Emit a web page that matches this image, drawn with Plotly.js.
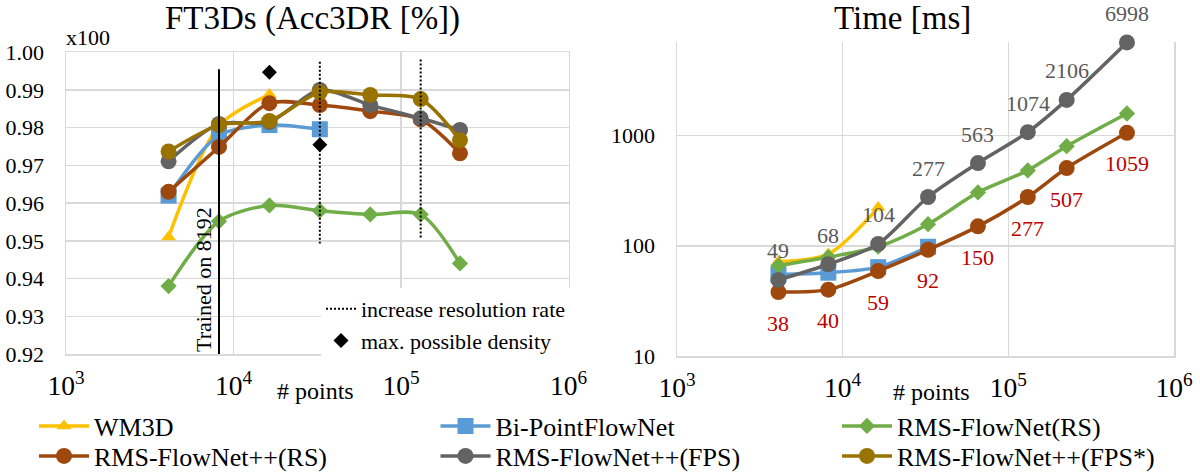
<!DOCTYPE html>
<html><head><meta charset="utf-8">
<script src="https://cdn.plot.ly/plotly-3.0.1.min.js"></script>
<style>html,body{margin:0;padding:0;background:#fff;overflow:hidden}#chart{width:1200px;height:472px}</style>
</head><body><div id="chart"></div>
<script>
// ---- Left panel: FT3Ds (Acc3DR) ----
const accPoints = [4096, 8192, 16384, 32768, 65536, 131072, 225000];
const accWM3D = [0.951, 0.9805, 0.9888];
const accBiPoint = [0.962, 0.978, 0.9807, 0.9796];
const accRmsRS = [0.938, 0.9552, 0.9594, 0.958, 0.957, 0.957, 0.944];
const accRmsppRS = [0.963, 0.9749, 0.9865, 0.986, 0.9844, 0.9822, 0.9732];
const accRmsppFPS = [0.9711, 0.981, 0.9815, 0.990, 0.986, 0.9825, 0.9794];
const accRmsppFPSs = [0.9737, 0.9807, 0.9818, 0.9894, 0.9887, 0.9876, 0.9767];
const trainedOn = 8192;
const trainedLineTop = 0.9955;
const accAxisMin = 0.92;
const resolutionSteps = [32768, 131072];
const resolutionTop = [0.9975, 0.9981];
const resolutionBottom = [0.9493, 0.9504];
const maxDensityPoints = [16384, 32768];
const maxDensityAcc = [0.9947, 0.9755];

// ---- Right panel: Time [ms] ----
const timePoints = [4096, 8192, 16384, 32768, 65536, 131072, 225000, 520000];
const timeWM3D = [72, 84, 222];
const timeBiPoint = [55, 57, 64, 98];
const timeRmsRS = [66, 79, 98, 157, 305, 483, 800, 1585];
const timeRmsppRS = [38, 40, 59, 92, 150, 277, 507, 1059];
const timeRmsppFPS = [49, 68, 104, 277, 563, 1074, 2106, 6998];

const names = ['WM3D', 'Bi-PointFlowNet', 'RMS-FlowNet(RS)', 'RMS-FlowNet++(RS)', 'RMS-FlowNet++(FPS)', 'RMS-FlowNet++(FPS*)'];
const colors = ['#FFC000', '#5B9BD5', '#70AD47', '#9E480E', '#636363', '#997300'];
const symbols = ['triangle-up', 'square', 'diamond', 'circle', 'circle', 'circle'];
const sizes = [13, 16, 12.5, 16, 16, 16];
const legendOf = ['legend', 'legend', 'legend', 'legend2', 'legend2', 'legend2'];

const FONT = 'Liberation Serif';
const accSeries = [accWM3D, accBiPoint, accRmsRS, accRmsppRS, accRmsppFPS, accRmsppFPSs];
const timeSeries = [timeWM3D, timeBiPoint, timeRmsRS, timeRmsppRS, timeRmsppFPS];

const traces = [];
accSeries.forEach((vals, i) => {
  traces.push({
    type: 'scatter', mode: 'lines+markers', name: names[i],
    x: accPoints.slice(0, vals.length), y: vals, xaxis: 'x', yaxis: 'y',
    line: {color: colors[i], width: 3.5, shape: 'spline', smoothing: 0.8},
    marker: {color: colors[i], symbol: symbols[i], size: sizes[i]},
    legend: legendOf[i], legendgroup: names[i], showlegend: true, cliponaxis: false
  });
});
// trained-on line
traces.push({type: 'scatter', mode: 'lines', x: [trainedOn, trainedOn], y: [trainedLineTop, accAxisMin],
  xaxis: 'x', yaxis: 'y', line: {color: '#000', width: 2}, showlegend: false, hoverinfo: 'skip'});
// increase resolution rate dotted lines
const rx = [], ry = [];
resolutionSteps.forEach((s, i) => { rx.push(s, s, null); ry.push(resolutionTop[i], resolutionBottom[i], null); });
traces.push({type: 'scatter', mode: 'lines', name: 'increase resolution rate', x: rx, y: ry,
  xaxis: 'x', yaxis: 'y', line: {color: '#000', width: 2, dash: '2px,2px'}, legend: 'legend3', showlegend: true});
traces.push({type: 'scatter', mode: 'markers', name: 'max. possible density', x: maxDensityPoints, y: maxDensityAcc,
  xaxis: 'x', yaxis: 'y', marker: {color: '#000', symbol: 'diamond', size: 11.5}, legend: 'legend3', showlegend: true});

timeSeries.forEach((vals, i) => {
  traces.push({
    type: 'scatter', mode: 'lines+markers', name: names[i],
    x: timePoints.slice(0, vals.length), y: vals, xaxis: 'x2', yaxis: 'y2',
    line: {color: colors[i], width: 3.5, shape: 'spline', smoothing: 0.8},
    marker: {color: colors[i], symbol: symbols[i], size: sizes[i]},
    legendgroup: names[i], showlegend: false, cliponaxis: false
  });
});

const W = 1200, H = 472;
const px = v => v / W, py = v => (H - v) / H;
const gridC = '#D9D9D9';
const axisCommon = {
  showgrid: true, gridcolor: gridC, gridwidth: 1.5, showline: true, linecolor: gridC, linewidth: 1.5,
  zeroline: false, ticks: '', tickfont: {family: FONT, size: 22, color: '#000'}, fixedrange: true
};
const legendRow = (y) => ({
  orientation: 'h', x: px(34), xanchor: 'left', y: py(y), yanchor: 'middle',
  entrywidth: 336.5, entrywidthmode: 'pixels', itemwidth: 50,
  font: {family: FONT, size: 26, color: '#000'}, bgcolor: 'rgba(0,0,0,0)', traceorder: 'normal'
});

// data labels on the time panel
const valueLabels = [];
timeRmsppFPS.forEach((v, i) => valueLabels.push({
  text: String(v), x: Math.log10(timePoints[i]), y: Math.log10(v), xref: 'x2', yref: 'y2',
  yshift: 29, showarrow: false, xanchor: 'center', yanchor: 'middle',
  font: {family: FONT, size: 22, color: '#595959'}
}));
timeRmsppRS.forEach((v, i) => valueLabels.push({
  text: String(v), x: Math.log10(timePoints[i]), y: Math.log10(v), xref: 'x2', yref: 'y2',
  yshift: -31, showarrow: false, xanchor: 'center', yanchor: 'middle',
  font: {family: FONT, size: 22, color: '#C00000'}
}));

const layout = {
  width: W, height: H, margin: {l: 0, r: 0, t: 0, b: 0, autoexpand: false},
  paper_bgcolor: '#fff', plot_bgcolor: '#fff',
  font: {family: FONT, size: 22, color: '#000'},
  xaxis: Object.assign({}, axisCommon, {
    type: 'log', range: [3, 6], dtick: 1, exponentformat: 'power', domain: [px(66), px(568.5)], anchor: 'y',
    mirror: true, ticklabelstandoff: 8
  }),
  yaxis: Object.assign({}, axisCommon, {
    range: [0.92, 1.0], dtick: 0.01, tickformat: '.2f', domain: [py(354), py(52.3)], anchor: 'x',
    mirror: true, ticklabelstandoff: 16
  }),
  xaxis2: Object.assign({}, axisCommon, {
    type: 'log', range: [3, 6], dtick: 1, exponentformat: 'power', domain: [px(677), px(1174)], anchor: 'y2',
    mirror: false, ticklabelstandoff: 8
  }),
  yaxis2: Object.assign({}, axisCommon, {
    type: 'log', range: [1, 3.846], dtick: 1, exponentformat: 'none', domain: [py(356), py(42.3)], anchor: 'x2',
    mirror: true, ticklabelstandoff: 16
  }),
  legend: legendRow(426),
  legend2: legendRow(456),
  legend3: {
    orientation: 'v', x: px(321), xanchor: 'left', y: py(288), yanchor: 'top', itemwidth: 30,
    font: {family: FONT, size: 22, color: '#000'}, bgcolor: '#fff', traceorder: 'normal'
  },
  annotations: [
    {text: 'FT3Ds (Acc3DR [%])', x: px(313), y: py(18), xref: 'paper', yref: 'paper', showarrow: false,
     xanchor: 'center', yanchor: 'middle', font: {family: FONT, size: 33, color: '#000'}},
    {text: 'Time [ms]', x: px(902), y: py(18), xref: 'paper', yref: 'paper', showarrow: false,
     xanchor: 'center', yanchor: 'middle', font: {family: FONT, size: 33, color: '#000'}},
    {text: 'x100', x: px(64), y: py(37), xref: 'paper', yref: 'paper', showarrow: false,
     xanchor: 'left', yanchor: 'middle', font: {family: FONT, size: 22, color: '#000'}},
    {text: '# points', x: px(316), y: py(391), xref: 'paper', yref: 'paper', showarrow: false,
     xanchor: 'center', yanchor: 'middle', font: {family: FONT, size: 24, color: '#000'}},
    {text: '# points', x: px(932), y: py(392), xref: 'paper', yref: 'paper', showarrow: false,
     xanchor: 'center', yanchor: 'middle', font: {family: FONT, size: 24, color: '#000'}},
    {text: 'Trained on ' + trainedOn, x: Math.log10(trainedOn), y: accAxisMin, xref: 'x', yref: 'y',
     textangle: -90, xanchor: 'right', yanchor: 'bottom', showarrow: false, xshift: -1,
     font: {family: FONT, size: 22, color: '#000'}}
  ].concat(valueLabels)
};

Plotly.newPlot('chart', traces, layout, {displayModeBar: false, staticPlot: true});
</script></body></html>
